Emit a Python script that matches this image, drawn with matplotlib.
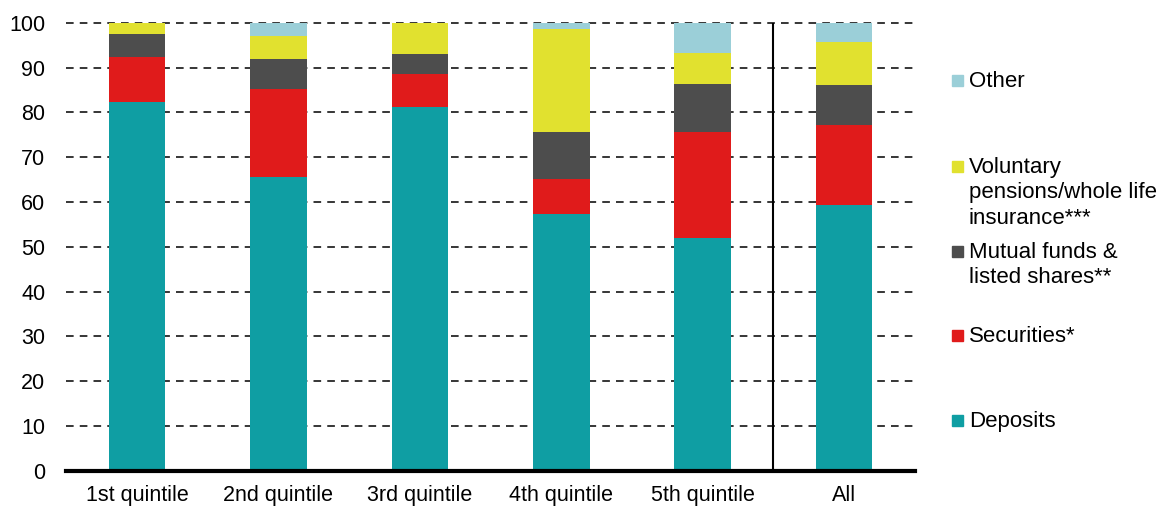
import numpy as np
import matplotlib.pyplot as plt
from matplotlib.patches import Rectangle

plt.rcParams['font.family'] = ['Liberation Sans', 'DejaVu Sans']

# data (shares, in %)
groups = ['1st quintile', '2nd quintile', '3rd quintile', '4th quintile', '5th quintile', 'All']
deposits   = np.array([82.4, 65.7, 81.2, 57.4, 51.9, 59.4])
securities = np.array([9.9, 19.6, 7.4, 7.7, 23.8, 17.7])
mutual     = np.array([5.2, 6.7, 4.5, 10.6, 10.7, 9.1])
voluntary  = np.array([2.5, 5.1, 6.9, 22.9, 6.8, 9.6])
other      = np.array([0.0, 2.9, 0.0, 1.4, 6.8, 4.2])

series = [deposits, securities, mutual, voluntary, other]
names = ['Deposits', 'Securities*', 'Mutual funds &\nlisted shares**',
         'Voluntary\npensions/whole life\ninsurance***', 'Other']
colors = ['#0F9EA3', '#E01B1B', '#4D4D4D', '#E1E12F', '#9BCFD8']

fig = plt.figure(figsize=(11.61, 5.09), dpi=100)
ax = fig.add_axes([0.057, 0.075, 0.731, 0.880])

x = np.arange(len(groups))
bottom = np.zeros(len(groups))
for vals, c in zip(series, colors):
    ax.bar(x, vals, 0.4, bottom=bottom, color=c, zorder=3)
    bottom += vals

ax.set_xlim(-0.5, 5.5)
ax.set_ylim(0, 100)
ax.set_yticks(np.arange(0, 101, 10))
ax.set_xticks(x)
ax.set_xticklabels(groups)
ax.tick_params(axis='both', length=0, labelsize=15.5)
ax.tick_params(axis='x', pad=10)
ax.tick_params(axis='y', pad=15)
for s in ['left', 'right', 'top']:
    ax.spines[s].set_visible(False)
ax.spines['bottom'].set_linewidth(3)
ax.spines['bottom'].set_zorder(5)

for yv in np.arange(10, 101, 10):
    ax.axhline(yv, color='black', lw=1.1, ls=(0, (5, 4)), zorder=1, clip_on=False)
ax.axvline(4.5, color='black', lw=1.5, zorder=4)

# legend drawn by hand to keep the uneven spacing
leg_y = [420, 335, 251, 166, 80]
for (name, c, yp) in zip(names, colors, leg_y):
    yf = 1 - yp / 509
    fig.patches.append(Rectangle((952 / 1161, yf - 5.5 / 509), 11 / 1161, 11 / 509,
                                 transform=fig.transFigure, color=c))
    fig.text(969 / 1161, yf + 9 / 509, name, fontsize=16, va='top', ha='left',
             linespacing=1.27)

fig.savefig('out.png', dpi=100)
